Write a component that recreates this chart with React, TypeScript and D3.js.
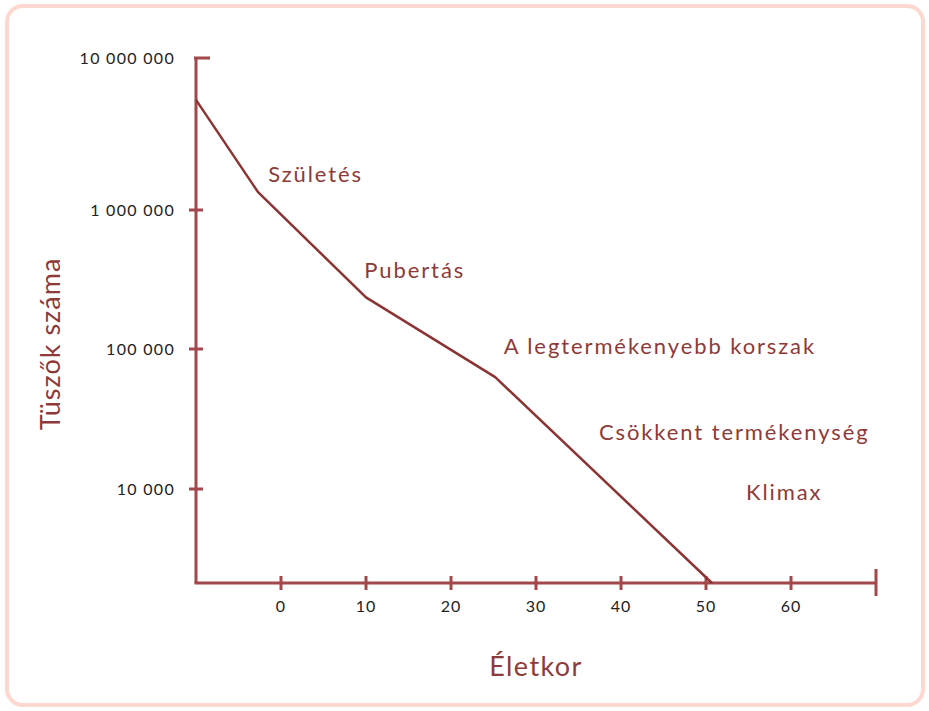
import React from 'react';
import * as d3 from 'd3';

// follicle count over age (log scale)
const ages = [-10, -2.7, 10, 25.2, 50.7];
const follicles = [5300000, 1310000, 235000, 63000, 2100];

const yTickValues = [10000000, 1000000, 100000, 10000];
const yTickLabels = ['10 000 000', '1 000 000', '100 000', '10 000'];
const xTickValues = [0, 10, 20, 30, 40, 50, 60];

const phaseNames = ['Születés', 'Pubertás', 'A legtermékenyebb korszak', 'Csökkent termékenység', 'Klimax'];
const phaseAges = [-1.5, 9.8, 26.2, 37.4, 54.7];
const phaseValues = [1530000, 324000, 92000, 22400, 8300];

const W = 929;
const H = 711;
const axisColor = '#a2474a';
const lineColor = '#8c3434';
const textColor = '#8e3a3a';
const font = 'Lato, "Open Sans", sans-serif';

export default function App() {
  const x = d3.scaleLinear().domain([-10, 70]).range([196, 876]);
  const y = d3.scaleLog()
    .domain([2100, 10000, 100000, 1000000, 10000000])
    .range([583, 489, 349, 210, 58]);

  const line = d3.line<number>()
    .x((d, i) => x(ages[i]))
    .y((d) => y(d));

  const x0 = x(-10);
  const x1 = x(70);
  const y0 = y(2100);
  const yTop = y(10000000);

  return (
    <svg width={W} height={H} style={{ position: 'absolute', left: 0, top: 0 }}>
      <rect x={7} y={6} width={916} height={699} rx={16} ry={16} fill="#fff" stroke="#fcd8d0" strokeWidth={4} />

      {/* axes */}
      <line x1={x0} y1={yTop} x2={x0} y2={y0} stroke={axisColor} strokeWidth={3} />
      <line x1={x0 - 1.5} y1={y0} x2={x1} y2={y0} stroke={axisColor} strokeWidth={3} />
      <line x1={x1} y1={y0 - 14} x2={x1} y2={y0 + 13} stroke={axisColor} strokeWidth={3} />

      {yTickValues.map((v, i) => (
        <g key={v}>
          <line x1={i === 0 ? x0 - 2 : x0 - 7} y1={y(v)} x2={i === 0 ? x0 + 14 : x0 + 7} y2={y(v)}
            stroke={axisColor} strokeWidth={3} />
          <text x={175} y={y(v)} dy="0.35em" textAnchor="end" fontFamily={font} fontSize={16}
            letterSpacing={1.3} fill="#222">{yTickLabels[i]}</text>
        </g>
      ))}

      {xTickValues.map((v) => (
        <g key={v}>
          <line x1={x(v)} y1={y0 - 7} x2={x(v)} y2={y0 + 7} stroke={axisColor} strokeWidth={3} />
          <text x={x(v)} y={612} textAnchor="middle" fontFamily={font} fontSize={16} letterSpacing={1}
            fill="#222">{v}</text>
        </g>
      ))}

      <path d={line(follicles) || ''} fill="none" stroke={lineColor} strokeWidth={2.5} strokeLinejoin="round" />

      {phaseNames.map((name, i) => (
        <text key={name} x={x(phaseAges[i])} y={y(phaseValues[i])} fontFamily={font} fontSize={22}
          letterSpacing={1.9} fill={textColor}>{name}</text>
      ))}

      <text transform="translate(60,344) rotate(-90)" textAnchor="middle" fontFamily={font} fontSize={27}
        letterSpacing={1} fill={textColor}>Tüszők száma</text>
      <text x={536} y={676} textAnchor="middle" fontFamily={font} fontSize={27} letterSpacing={1.4}
        fill={textColor}>Életkor</text>
    </svg>
  );
}
